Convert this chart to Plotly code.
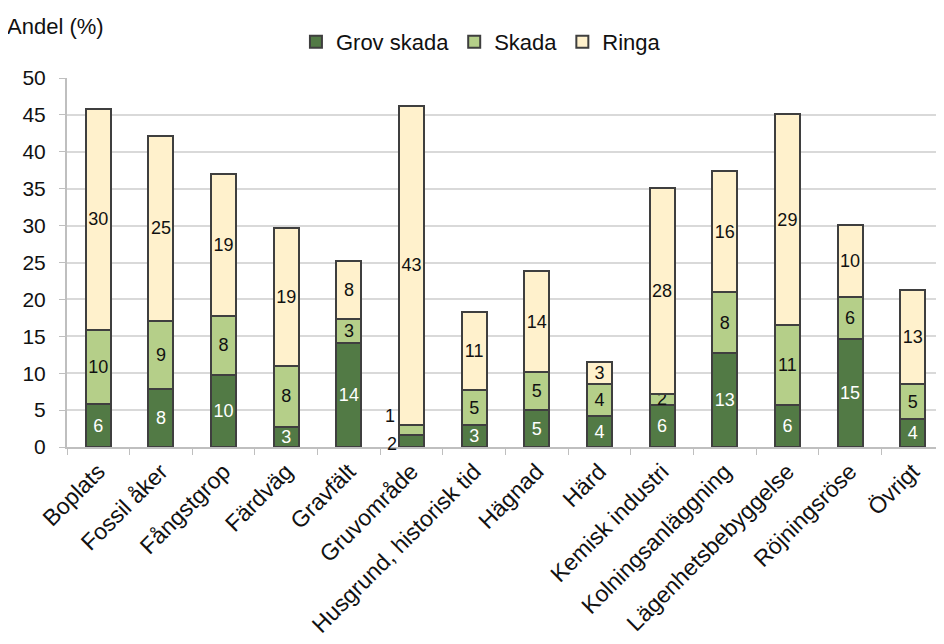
import plotly.graph_objects as go

categories = ["Boplats", "Fossil åker", "Fångstgrop", "Färdväg", "Gravfält", "Gruvområde",
              "Husgrund, historisk tid", "Hägnad", "Härd", "Kemisk industri",
              "Kolningsanläggning", "Lägenhetsbebyggelse", "Röjningsröse", "Övrigt"]
grov_skada = [5.8, 7.9, 9.8, 2.7, 14.1, 1.6, 3.0, 5.0, 4.2, 5.7, 12.7, 5.7, 14.7, 3.8]
skada = [10.1, 9.2, 8.0, 8.3, 3.2, 1.4, 4.7, 5.2, 4.3, 1.5, 8.3, 10.8, 5.6, 4.7]
ringa = [29.9, 25.1, 19.2, 18.7, 7.9, 43.2, 10.6, 13.6, 3.0, 27.9, 16.4, 28.6, 9.8, 12.8]
y_ticks = list(range(0, 51, 5))

outside_cat = "Gruvområde"

def labels(vals, skip=None):
    return ["" if c == skip else f"{v:.0f}" for c, v in zip(categories, vals)]

line = dict(color="#3f3f3f", width=2)
fig = go.Figure()
fig.add_bar(x=categories, y=grov_skada, name="Grov skada", marker=dict(color="#527a45", line=line),
            text=labels(grov_skada, outside_cat), textfont=dict(color="white", size=18))
fig.add_bar(x=categories, y=skada, name="Skada", marker=dict(color="#b5cf89", line=line),
            text=labels(skada, outside_cat), textfont=dict(color="#111", size=18))
fig.add_bar(x=categories, y=ringa, name="Ringa", marker=dict(color="#fff1cc", line=line),
            text=labels(ringa), textfont=dict(color="#111", size=18))
fig.update_traces(textposition="inside", insidetextanchor="middle", textangle=0,
                  constraintext="none", cliponaxis=False)

idx = categories.index(outside_cat)
fig.add_annotation(x=outside_cat, y=grov_skada[idx] / 2, text=f"{grov_skada[idx]:.0f}",
                   showarrow=False, xshift=-20, yshift=-3, font=dict(size=18, color="#111"))
fig.add_annotation(x=outside_cat, y=grov_skada[idx] + skada[idx] / 2, text=f"{skada[idx]:.0f}",
                   showarrow=False, xshift=-22, yshift=14, font=dict(size=18, color="#111"))
fig.add_annotation(x=0, y=1, xref="paper", yref="paper", xanchor="left", yanchor="top",
                   text="Andel (%)", showarrow=False, font=dict(size=22, color="#111"),
                   xshift=-62, yshift=66)

fig.update_layout(
    barmode="stack", bargap=0.6, width=944, height=644,
    margin=dict(l=59, r=8, t=70, b=205, autoexpand=False),
    plot_bgcolor="white", paper_bgcolor="white",
    font=dict(family="Liberation Sans, Arial, sans-serif", color="#111"),
    showlegend=True,
    legend=dict(orientation="h", x=0.472, xanchor="center", y=1 - 34 / 644, yref="container",
                yanchor="middle", font=dict(size=22), traceorder="normal", tracegroupgap=0),
)
fig.update_yaxes(range=[0, 50], tickvals=y_ticks, showgrid=True, gridcolor="#d9d9d9", gridwidth=2,
                 showline=True, linecolor="#bfbfbf", linewidth=2, ticks="outside", ticklen=6,
                 tickcolor="#bfbfbf", tickfont=dict(size=21), zeroline=False, automargin=False,
                 ticklabelstandoff=9)
fig.update_xaxes(tickangle=-45, tickfont=dict(size=23), showline=True, linecolor="#bfbfbf",
                 linewidth=2, ticks="outside", ticklen=6, tickcolor="#bfbfbf", tickson="boundaries",
                 automargin=False)
fig.write_html("out.html")
